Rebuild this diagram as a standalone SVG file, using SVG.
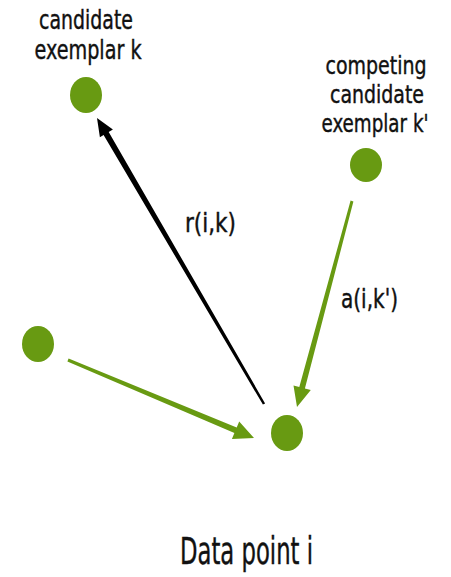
<svg xmlns="http://www.w3.org/2000/svg" width="451" height="577" viewBox="0 0 451 577">
<style>
.lbl{font-family:"DejaVu Sans Condensed","Liberation Sans Narrow","Liberation Sans",sans-serif;fill:#111;stroke:#111;stroke-width:0.4;text-anchor:middle}
.node{fill:#689a12}
.g{fill:#689a12}
.k{fill:#000}
</style>
<rect width="451" height="577" fill="#fff"/>
<g id="connectors">
<polygon class="k" points="265.1,403.4 108.7,132 112.9,129.6 97,118 99.9,137.2 103.6,135.1 262.9,404.6"/>
<polygon class="g" points="67.4,361.4 234.4,433.1 231.9,438.9 254,438 239.2,421.6 236.7,427.6 68.6,358.6"/>
<polygon class="g" points="350.6,200.5 299.3,386.9 293.5,385.4 297,407 310.8,390 304.9,388.5 353.4,201.5"/>
</g>
<g id="node-k">
<ellipse class="node" cx="86" cy="95" rx="16" ry="18"/>
<text class="lbl" x="86" y="29" font-size="26" textLength="94" lengthAdjust="spacingAndGlyphs">candidate</text>
<text class="lbl" x="88" y="59" font-size="26" textLength="107" lengthAdjust="spacingAndGlyphs">exemplar k</text>
</g>
<g id="node-kprime">
<ellipse class="node" cx="366" cy="165" rx="16" ry="17"/>
<text class="lbl" x="376" y="74" font-size="25" textLength="101" lengthAdjust="spacingAndGlyphs">competing</text>
<text class="lbl" x="377" y="103" font-size="25" textLength="94" lengthAdjust="spacingAndGlyphs">candidate</text>
<text class="lbl" x="375" y="132" font-size="25" textLength="107" lengthAdjust="spacingAndGlyphs">exemplar k'</text>
</g>
<g id="node-other">
<ellipse class="node" cx="38" cy="344" rx="16" ry="18"/>
</g>
<g id="node-i">
<ellipse class="node" cx="287" cy="433" rx="16" ry="18"/>
<text class="lbl" x="246.5" y="564" font-size="37" textLength="133" lengthAdjust="spacingAndGlyphs">Data point i</text>
</g>
<g id="edge-labels">
<text class="lbl" x="210.5" y="232" font-size="26" textLength="51" lengthAdjust="spacingAndGlyphs">r(i,k)</text>
<text class="lbl" x="369.5" y="308" font-size="26" textLength="57" lengthAdjust="spacingAndGlyphs">a(i,k')</text>
</g>
</svg>
